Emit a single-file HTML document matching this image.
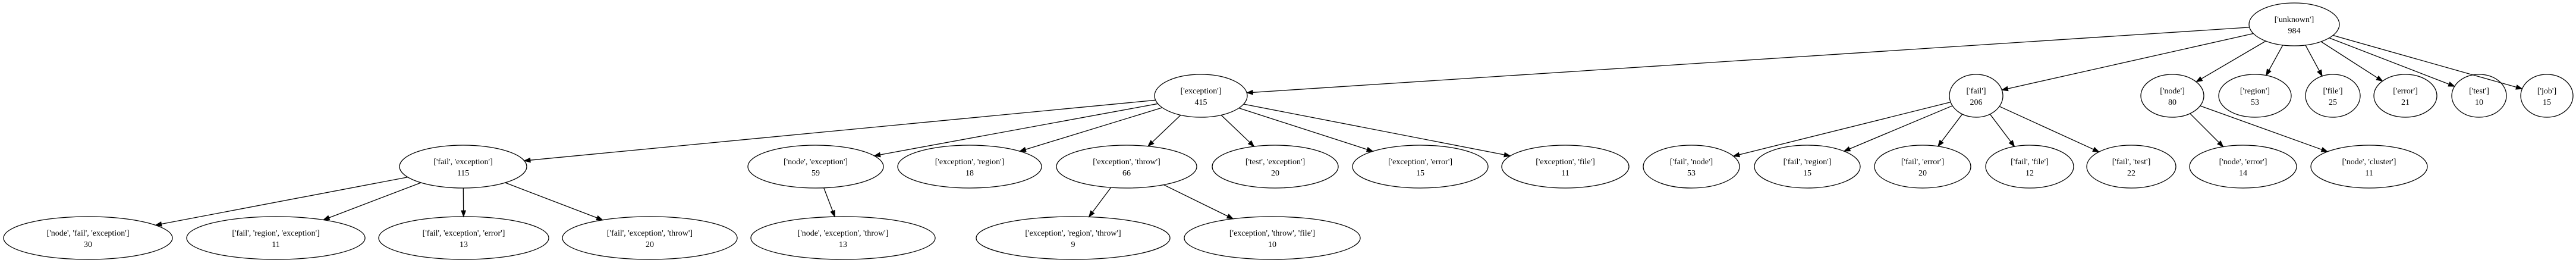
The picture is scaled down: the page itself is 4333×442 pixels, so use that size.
<!DOCTYPE html>
<html><head><meta charset="utf-8"><style>
html,body{margin:0;padding:0;background:#fff;}
svg{display:block;}
text{font-family:"Liberation Serif",serif;font-size:14px;fill:#000;text-anchor:middle;}
</style></head><body>
<svg id="g" width="4333" height="442" viewBox="0 0 4333 442" xmlns="http://www.w3.org/2000/svg"></svg>
<script>
var R1=41,R2=161,R3=280,R4=400;
var N={
root:[3859,R1,76,"['unknown']","984"],
exc:[2020,R2,78,"['exception']","415"],
fail:[3324,R2,45,"['fail']","206"],
node:[3654,R2,53,"['node']","80"],
region:[3793,R2,61,"['region']","53"],
file:[3924,R2,46,"['file']","25"],
error:[4046,R2,53,"['error']","21"],
test:[4170,R2,46,"['test']","10"],
job:[4284,R2,44,"['job']","15"],
fe:[779,R3,107,"['fail', 'exception']","115"],
ne:[1372,R3,114,"['node', 'exception']","59"],
er:[1631,R3,121,"['exception', 'region']","18"],
et:[1895,R3,118,"['exception', 'throw']","66"],
te:[2145,R3,106,"['test', 'exception']","20"],
ee:[2389,R3,114,"['exception', 'error']","15"],
ef:[2633,R3,107,"['exception', 'file']","11"],
fn:[2845,R3,81,"['fail', 'node']","53"],
fr:[3040,R3,89,"['fail', 'region']","15"],
ferr:[3234,R3,81,"['fail', 'error']","20"],
ff:[3414,R3,74,"['fail', 'file']","12"],
ft:[3585,R3,75,"['fail', 'test']","22"],
nerr:[3773,R3,90,"['node', 'error']","14"],
nc:[3985,R3,98,"['node', 'cluster']","11"],
nfe:[148,R4,142,"['node', 'fail', 'exception']","30"],
fre:[464,R4,150,"['fail', 'region', 'exception']","11"],
fee:[780,R4,143,"['fail', 'exception', 'error']","13"],
fet:[1093,R4,147,"['fail', 'exception', 'throw']","20"],
net:[1418,R4,155,"['node', 'exception', 'throw']","13"],
ert:[1805,R4,163,"['exception', 'region', 'throw']","9"],
etf:[2140,R4,148,"['exception', 'throw', 'file']","10"]
};
var E=[["root","exc"],["root","fail"],["root","node"],["root","region"],["root","file"],["root","error"],["root","test"],["root","job"],
["exc","fe"],["exc","ne"],["exc","er"],["exc","et"],["exc","te"],["exc","ee"],["exc","ef"],
["fail","fn"],["fail","fr"],["fail","ferr"],["fail","ff"],["fail","ft"],
["node","nerr"],["node","nc"],
["fe","nfe"],["fe","fre"],["fe","fee"],["fe","fet"],
["ne","net"],["et","ert"],["et","etf"]];
var RY=36,s="";
function bnd(n,dx,dy){var t=1/Math.sqrt(dx*dx/(n[2]*n[2])+dy*dy/(RY*RY));return [n[0]+dx*t,n[1]+dy*t];}
E.forEach(function(e){var a=N[e[0]],b=N[e[1]];var dx=b[0]-a[0],dy=b[1]-a[1];
var p=bnd(a,dx,dy),q=bnd(b,-dx,-dy);var L=Math.hypot(q[0]-p[0],q[1]-p[1]);var ux=(q[0]-p[0])/L,uy=(q[1]-p[1])/L;
var bx=q[0]-ux*10,by=q[1]-uy*10;
s+='<line x1="'+p[0]+'" y1="'+p[1]+'" x2="'+bx+'" y2="'+by+'" stroke="#000" stroke-width="1.3"/>';
s+='<polygon points="'+q[0]+','+q[1]+' '+(bx-uy*3.7)+','+(by+ux*3.7)+' '+(bx+uy*3.7)+','+(by-ux*3.7)+'" fill="#000" stroke="#000"/>';});
for(var k in N){var n=N[k];
s+='<ellipse cx="'+n[0]+'" cy="'+n[1]+'" rx="'+n[2]+'" ry="'+RY+'" fill="none" stroke="#000" stroke-width="1.3"/>';
s+='<text x="'+n[0]+'" y="'+(n[1]-4)+'">'+n[3]+'</text><text x="'+n[0]+'" y="'+(n[1]+15)+'">'+n[4]+'</text>';}
document.getElementById("g").innerHTML=s;
</script>
</body></html>
